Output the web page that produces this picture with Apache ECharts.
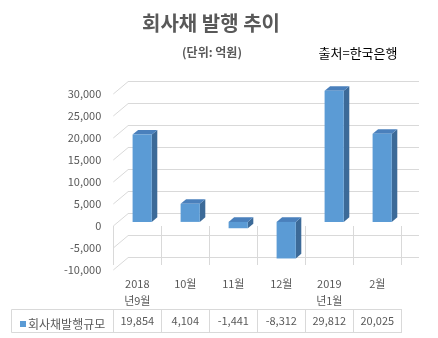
<!DOCTYPE html>
<html>
<head>
<meta charset="utf-8">
<script src="https://cdn.jsdelivr.net/npm/echarts@6/dist/echarts.min.js"></script>
<style>
  html, body { margin: 0; padding: 0; background: #fff; }
  #chart { width: 438px; height: 338px; }
</style>
</head>
<body>
<div id="chart"></div>
<script>
// Monthly corporate bond net issuance (unit: 100 million KRW)
const categories = ['2018\n년9월', '10월', '11월', '12월', '2019\n년1월', '2월'];
const issuance = [19854, 4104, -1441, -8312, 29812, 20025];
const yTicks = [-10000, -5000, 0, 5000, 10000, 15000, 20000, 25000, 30000];
const seriesName = '회사채발행규모';

const FONT = "'Noto Sans CJK KR', 'Noto Sans', sans-serif";
const GRAY = '#595959';
const LINE = '#d9d9d9';

// Pseudo-3D layout: front plane (labels, table), back wall (gridlines), bars in between
const FRONT = { left: 113.3, top: 94, width: 288, height: 176 };
const DEPTH = { dx: 14.7, dy: 12.3 };
const BAR_DEPTH = { dx: 5.5, dy: 4.6 };

const fmt = v => Number(v).toLocaleString('en-US');

const chart = echarts.init(document.getElementById('chart'), null, { renderer: 'canvas' });

const yRange = { min: -10000, max: 30000, interval: 5000 };

chart.setOption({
  animation: false,
  textStyle: { fontFamily: FONT },
  grid: [
    // 0: front plane
    { left: FRONT.left, top: FRONT.top, width: FRONT.width, height: FRONT.height, outerBoundsMode: 'none' },
    // 1: back wall
    { left: FRONT.left + DEPTH.dx, top: FRONT.top - DEPTH.dy, width: FRONT.width + 3, height: FRONT.height, outerBoundsMode: 'none' },
    // 2: bar plane, a third of the way back
    { left: FRONT.left + DEPTH.dx / 3, top: FRONT.top - DEPTH.dy / 3, width: FRONT.width, height: FRONT.height, outerBoundsMode: 'none' }
  ],
  xAxis: [
    { // category row of the data table
      type: 'category', gridIndex: 0, data: categories, boundaryGap: true,
      axisLine: { show: false },
      axisTick: { show: true, interval: 0, length: 39, lineStyle: { color: LINE } },
      axisLabel: { interval: 0, margin: 5, fontSize: 11, lineHeight: 17, color: GRAY, fontFamily: FONT }
    },
    { // value row of the data table
      type: 'category', gridIndex: 0, data: categories, boundaryGap: true, position: 'bottom', offset: 39,
      axisLine: { show: true, lineStyle: { color: LINE } },
      axisTick: { show: true, interval: 0, length: 24, lineStyle: { color: LINE } },
      axisLabel: { interval: 0, margin: 6, fontSize: 11, color: GRAY, fontFamily: FONT,
        formatter: (v, i) => fmt(issuance[i]) }
    },
    { type: 'category', gridIndex: 1, data: categories, show: false },
    { type: 'category', gridIndex: 2, data: categories, show: false }
  ],
  yAxis: [
    { type: 'value', gridIndex: 0, ...yRange,
      axisLine: { show: false }, axisTick: { show: false }, splitLine: { show: false },
      axisLabel: { margin: 12, fontSize: 11, color: GRAY, fontFamily: FONT, formatter: fmt } },
    { type: 'value', gridIndex: 1, ...yRange,
      axisLine: { show: false }, axisTick: { show: false }, axisLabel: { show: false },
      splitLine: { show: true, lineStyle: { color: LINE, width: 1 } } },
    { type: 'value', gridIndex: 2, ...yRange, show: false, splitLine: { show: false } }
  ],
  legend: {
    data: [seriesName],
    left: 15, top: 313,
    icon: 'rect', itemWidth: 6, itemHeight: 6, itemGap: 0,
    textStyle: { fontSize: 12, color: GRAY, fontFamily: FONT, padding: [0, 0, 0, -3] }
  },
  series: [
    { // floor lines running from the front plane to the back wall
      type: 'custom', name: 'floor', xAxisIndex: 0, yAxisIndex: 0, silent: true, clip: false,
      data: yTicks.map(v => [0, v]),
      renderItem: (params, api) => {
        const cs = params.coordSys;
        const y = api.coord([0, api.value(1)])[1];
        return {
          type: 'line',
          shape: { x1: cs.x, y1: y, x2: cs.x + DEPTH.dx, y2: y - DEPTH.dy },
          style: { stroke: LINE, lineWidth: 1 }
        };
      }
    },
    { // 3D columns
      type: 'custom', name: seriesName, xAxisIndex: 3, yAxisIndex: 2, clip: false,
      itemStyle: { color: '#5b9bd5' },
      data: issuance.map((v, i) => [i, v]),
      renderItem: (params, api) => {
        const i = api.value(0), v = api.value(1);
        const hi = api.coord([i, Math.max(v, 0)]);
        const lo = api.coord([i, Math.min(v, 0)]);
        const w = api.size([1, 0])[0] * 0.4;
        const x0 = hi[0] - w / 2, x1 = hi[0] + w / 2;
        const yT = hi[1], yB = lo[1];
        const dx = BAR_DEPTH.dx, dy = BAR_DEPTH.dy;
        return {
          type: 'group',
          children: [
            { type: 'polygon',
              shape: { points: [[x1, yT], [x1 + dx, yT - dy], [x1 + dx, yB - dy], [x1, yB]] },
              style: { fill: '#3c6a98' } },
            { type: 'polygon',
              shape: { points: [[x0, yT], [x1, yT], [x1 + dx, yT - dy], [x0 + dx, yT - dy]] },
              style: { fill: '#4a80bc' } },
            { type: 'rect',
              shape: { x: x0, y: yT, width: w, height: yB - yT },
              style: { fill: '#5b9bd5' } }
          ]
        };
      }
    }
  ],
  graphic: [
    { type: 'text', x: 211, y: 23,
      style: { text: '회사채 발행 추이', font: `bold 20px ${FONT}`, fill: GRAY, align: 'center', verticalAlign: 'middle' } },
    { type: 'text', x: 212, y: 52,
      style: { text: '(단위: 억원)', font: `bold 12px ${FONT}`, fill: GRAY, align: 'center', verticalAlign: 'middle' } },
    { type: 'text', x: 358, y: 53,
      style: { text: '출처=한국은행', font: `13px ${FONT}`, fill: '#000', align: 'center', verticalAlign: 'middle' } },
    // legend cell borders of the data table
    { type: 'line', shape: { x1: 11.5, y1: 309.5, x2: 113.5, y2: 309.5 }, style: { stroke: LINE, lineWidth: 1 } },
    { type: 'line', shape: { x1: 11.5, y1: 332.5, x2: 401.5, y2: 332.5 }, style: { stroke: LINE, lineWidth: 1 } },
    { type: 'line', shape: { x1: 11.5, y1: 309.5, x2: 11.5, y2: 332.5 }, style: { stroke: LINE, lineWidth: 1 } }
  ]
});
</script>
</body>
</html>
